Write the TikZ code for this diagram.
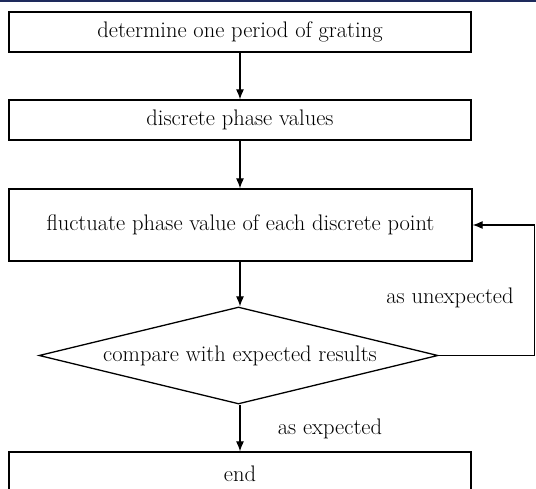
\documentclass[tikz,border=0pt]{standalone}
\usetikzlibrary{shapes.geometric,arrows.meta}
\definecolor{navy}{RGB}{30,42,92}
\begin{document}
\begin{tikzpicture}[x=1pt,y=-1pt,
  every node/.style={font=\fontsize{22.5}{26}\selectfont},
  proc/.style={draw,line width=1.3pt,rectangle,minimum width=462pt,inner sep=0pt},
  dec/.style={draw,line width=1.3pt,diamond,minimum width=399pt,minimum height=97pt,inner sep=0pt,aspect=4},
  arr/.style={line width=1.1pt,-{Latex[length=10pt,width=8pt]}},
  ln/.style={line width=1.1pt}]
\useasboundingbox (0,0) rectangle (536,489);
\fill[navy] (0,0) rectangle (536,2);
\node[proc,minimum height=40pt] (b1) at (240,32) {determine one period of grating};
\node[proc,minimum height=40pt] (b2) at (240,120) {discrete phase values};
\node[proc,minimum height=72pt,minimum width=463pt] (b3) at (240.5,225) {fluctuate phase value of each discrete point};
\node[dec] (d) at (238.5,355.5) {};
\node at (240,356) {compare with expected results};
\node[proc,minimum height=40pt] (e) at (240,472) {};
\node at (240,474) {end};
\coordinate (c1) at (534.5,355.5);
\coordinate (c2) at (534.5,225);
\draw[arr] (b1.south) -- (b2.north);
\draw[arr] (b2.south) -- (b3.north -| b2.south);
\draw[arr] (b3.south -| b2.south) -- (d.north -| b2.south);
\draw[arr] (d.south -| b2.south) -- (e.north -| b2.south);
\draw[ln] (d.east) -- (c1) -- (c2);
\draw[arr] (c2) -- (b3.east);
\node (l1) at (450,298) {as unexpected};
\node (l2) at (330,429) {as expected};
\end{tikzpicture}
\end{document}
